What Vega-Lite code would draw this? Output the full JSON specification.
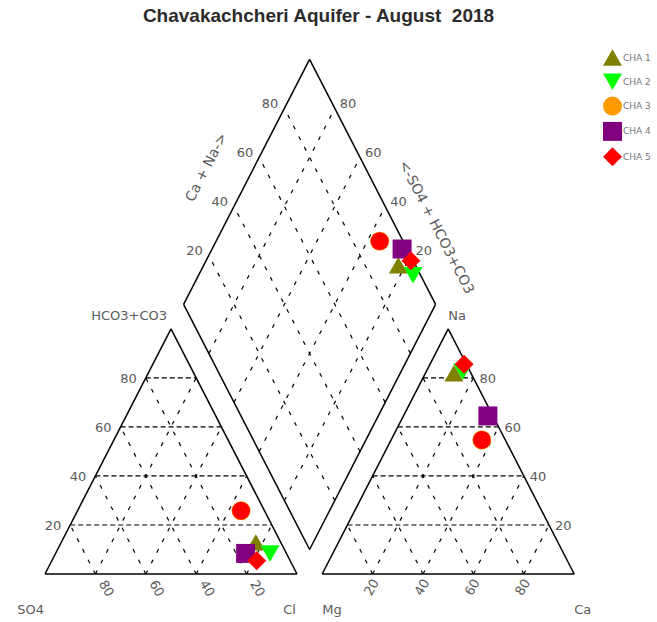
{
  "$schema": "https://vega.github.io/schema/vega-lite/v6.json",
  "width": 657,
  "height": 582,
  "autosize": {"type": "none"},
  "padding": {"top": 40, "left": 0, "right": 0, "bottom": 0},
  "background": "white",
  "title": {
    "text": "Chavakachcheri Aquifer - August\u00a0 2018",
    "anchor": "middle",
    "font": "Liberation Sans",
    "fontSize": 19,
    "fontWeight": "bold",
    "color": "#2b2b2b",
    "offset": 14,
    "dx": -10
  },
  "config": {
    "view": {"stroke": null},
    "text": {"font": "DejaVu Sans", "fontSize": 13, "color": "#5a5a5a"}
  },
  "datasets": {
    "samples": [
      {"sample": "CHA 1", "Ca": 11.3, "Mg": 6.8, "Na": 81.9, "HCO3": 12.9, "SO4": 9.9, "Cl": 77.2},
      {"sample": "CHA 2", "Ca": 14.5, "Mg": 3.0, "Na": 82.5, "HCO3": 8.4, "SO4": 6.5, "Cl": 85.1},
      {"sample": "CHA 3", "Ca": 36.0, "Mg": 9.3, "Na": 54.7, "HCO3": 25.8, "SO4": 9.3, "Cl": 64.9},
      {"sample": "CHA 4", "Ca": 33.5, "Mg": 2.0, "Na": 64.5, "HCO3": 8.4, "SO4": 16.2, "Cl": 75.4},
      {"sample": "CHA 5", "Ca": 13.5, "Mg": 0.9, "Na": 85.6, "HCO3": 5.4, "SO4": 13.3, "Cl": 81.3}
    ],
    "lines": [
      {"panel": "L", "family": "top", "level": [0, 20, 40, 60, 80]},
      {"panel": "L", "family": "right", "level": [0, 20, 40, 60, 80]},
      {"panel": "L", "family": "left", "level": [0, 20, 40, 60, 80]},
      {"panel": "R", "family": "top", "level": [0, 20, 40, 60, 80]},
      {"panel": "R", "family": "right", "level": [0, 20, 40, 60, 80]},
      {"panel": "R", "family": "left", "level": [0, 20, 40, 60, 80]},
      {"panel": "D", "family": "a", "level": [0, 20, 40, 60, 80, 100]},
      {"panel": "D", "family": "b", "level": [0, 20, 40, 60, 80, 100]}
    ],
    "levels": [{"level": 20}, {"level": 40}, {"level": 60}, {"level": 80}],
    "corners": [
      {"label": "SO4", "panel": "L", "corner": "left"},
      {"label": "Cl", "panel": "L", "corner": "right"},
      {"label": "HCO3+CO3", "panel": "L", "corner": "top"},
      {"label": "Mg", "panel": "R", "corner": "left"},
      {"label": "Ca", "panel": "R", "corner": "right"},
      {"label": "Na", "panel": "R", "corner": "top"}
    ],
    "diamondTitles": [
      {"label": "Ca + Na->", "edge": "upper-left"},
      {"label": "<-SO4 + HCO3+CO3", "edge": "upper-right"}
    ]
  },
  "layer": [
    {
      "data": {"name": "lines"},
      "transform": [
        {"flatten": ["level"]},
        {"calculate": "datum.family=='top'||datum.family=='a' ? datum.level : 0", "as": "p1"},
        {"calculate": "datum.family=='top'||datum.family=='a' ? 0 : datum.family=='left' ? 100-datum.level : datum.level", "as": "q1"},
        {"calculate": "datum.family=='top'||datum.family=='a' ? datum.level : datum.family=='b' ? 100 : 100-datum.level", "as": "p2"},
        {"calculate": "datum.family=='top' ? 100-datum.level : datum.family=='a' ? 100 : datum.family=='left' ? 0 : datum.level", "as": "q2"},
        {"calculate": "datum.panel=='D' ? 105+(datum.p1-datum.q1)/2 : (datum.panel=='R' ? 110 : 0)+datum.q1+datum.p1/2", "as": "u1"},
        {"calculate": "datum.panel=='D' ? 0.8660254*(10+datum.p1+datum.q1) : 0.8660254*datum.p1", "as": "v1"},
        {"calculate": "datum.panel=='D' ? 105+(datum.p2-datum.q2)/2 : (datum.panel=='R' ? 110 : 0)+datum.q2+datum.p2/2", "as": "u2"},
        {"calculate": "datum.panel=='D' ? 0.8660254*(10+datum.p2+datum.q2) : 0.8660254*datum.p2", "as": "v2"}
      ],
      "encoding": {
        "x": {"field": "u1", "type": "quantitative", "scale": {"domain": [-17.857, 242.857], "nice": false, "zero": false}, "axis": null},
        "y": {"field": "v1", "type": "quantitative", "scale": {"domain": [-16.96, 188.69], "nice": false, "zero": false}, "axis": null},
        "x2": {"field": "u2"},
        "y2": {"field": "v2"}
      },
      "layer": [
        {
          "transform": [{"filter": "datum.level > 0 && datum.level < 100 && datum.family == 'top'"}],
          "mark": {"type": "rule", "color": "#000000", "strokeWidth": 1.2, "strokeDash": [5, 3]}
        },
        {
          "transform": [{"filter": "datum.level > 0 && datum.level < 100 && datum.family != 'top'"}],
          "mark": {"type": "rule", "color": "#000000", "strokeWidth": 1.2, "strokeDash": [4, 8]}
        },
        {
          "transform": [{"filter": "datum.level == 0 || datum.level == 100"}],
          "mark": {"type": "rule", "color": "#000000", "strokeWidth": 1.5}
        }
      ]
    },
    {
      "data": {"name": "levels"},
      "transform": [
        {"calculate": "datum.level/2", "as": "u"},
        {"calculate": "0.8660254*datum.level", "as": "v"}
      ],
      "mark": {"type": "text", "align": "right", "baseline": "middle", "dx": -9, "dy": 1},
      "encoding": {
        "x": {"field": "u", "type": "quantitative", "scale": {"domain": [-17.857, 242.857], "nice": false, "zero": false}, "axis": null},
        "y": {"field": "v", "type": "quantitative", "scale": {"domain": [-16.96, 188.69], "nice": false, "zero": false}, "axis": null},
        "text": {"field": "level", "type": "nominal"}
      }
    },
    {
      "data": {"name": "levels"},
      "transform": [
        {"calculate": "datum.level", "as": "u"},
        {"calculate": "0", "as": "v"},
        {"calculate": "100 - datum.level", "as": "lab"}
      ],
      "mark": {"type": "text", "align": "center", "baseline": "middle", "angle": 60, "dx": 18, "dy": -2},
      "encoding": {
        "x": {"field": "u", "type": "quantitative", "scale": {"domain": [-17.857, 242.857], "nice": false, "zero": false}, "axis": null},
        "y": {"field": "v", "type": "quantitative", "scale": {"domain": [-16.96, 188.69], "nice": false, "zero": false}, "axis": null},
        "text": {"field": "lab", "type": "nominal"}
      }
    },
    {
      "data": {"name": "levels"},
      "transform": [
        {"calculate": "210 - datum.level/2", "as": "u"},
        {"calculate": "0.8660254*datum.level", "as": "v"}
      ],
      "mark": {"type": "text", "align": "left", "baseline": "middle", "dx": 6, "dy": 1},
      "encoding": {
        "x": {"field": "u", "type": "quantitative", "scale": {"domain": [-17.857, 242.857], "nice": false, "zero": false}, "axis": null},
        "y": {"field": "v", "type": "quantitative", "scale": {"domain": [-16.96, 188.69], "nice": false, "zero": false}, "axis": null},
        "text": {"field": "level", "type": "nominal"}
      }
    },
    {
      "data": {"name": "levels"},
      "transform": [
        {"calculate": "110 + datum.level", "as": "u"},
        {"calculate": "0", "as": "v"}
      ],
      "mark": {"type": "text", "align": "center", "baseline": "middle", "angle": 300, "dx": -12, "dy": 6},
      "encoding": {
        "x": {"field": "u", "type": "quantitative", "scale": {"domain": [-17.857, 242.857], "nice": false, "zero": false}, "axis": null},
        "y": {"field": "v", "type": "quantitative", "scale": {"domain": [-16.96, 188.69], "nice": false, "zero": false}, "axis": null},
        "text": {"field": "level", "type": "nominal"}
      }
    },
    {
      "data": {"name": "levels"},
      "transform": [
        {"calculate": "105 + (datum.level - 100)/2", "as": "u"},
        {"calculate": "0.8660254*(110 + datum.level)", "as": "v"}
      ],
      "mark": {"type": "text", "align": "right", "baseline": "middle", "dx": -6, "dy": -4},
      "encoding": {
        "x": {"field": "u", "type": "quantitative", "scale": {"domain": [-17.857, 242.857], "nice": false, "zero": false}, "axis": null},
        "y": {"field": "v", "type": "quantitative", "scale": {"domain": [-16.96, 188.69], "nice": false, "zero": false}, "axis": null},
        "text": {"field": "level", "type": "nominal"}
      }
    },
    {
      "data": {"name": "levels"},
      "transform": [
        {"calculate": "105 + (100 - datum.level)/2", "as": "u"},
        {"calculate": "0.8660254*(110 + datum.level)", "as": "v"}
      ],
      "mark": {"type": "text", "align": "left", "baseline": "middle", "dx": 5, "dy": -4},
      "encoding": {
        "x": {"field": "u", "type": "quantitative", "scale": {"domain": [-17.857, 242.857], "nice": false, "zero": false}, "axis": null},
        "y": {"field": "v", "type": "quantitative", "scale": {"domain": [-16.96, 188.69], "nice": false, "zero": false}, "axis": null},
        "text": {"field": "level", "type": "nominal"}
      }
    },
    {
      "data": {"name": "corners"},
      "transform": [
        {"calculate": "(datum.panel=='R' ? 110 : 0) + (datum.corner=='left' ? 0 : datum.corner=='right' ? 100 : 50)", "as": "u"},
        {"calculate": "datum.corner=='top' ? 86.60254 : 0", "as": "v"}
      ],
      "encoding": {
        "x": {"field": "u", "type": "quantitative", "scale": {"domain": [-17.857, 242.857], "nice": false, "zero": false}, "axis": null},
        "y": {"field": "v", "type": "quantitative", "scale": {"domain": [-16.96, 188.69], "nice": false, "zero": false}, "axis": null},
        "text": {"field": "label", "type": "nominal"}
      },
      "layer": [
        {
          "transform": [{"filter": "datum.panel=='L' && datum.corner!='top'"}],
          "mark": {"type": "text", "align": "right", "baseline": "middle", "dx": -1, "dy": 36}
        },
        {
          "transform": [{"filter": "datum.panel=='R' && datum.corner!='top'"}],
          "mark": {"type": "text", "align": "left", "baseline": "middle", "dx": 0, "dy": 36}
        },
        {
          "transform": [{"filter": "datum.panel=='L' && datum.corner=='top'"}],
          "mark": {"type": "text", "align": "right", "baseline": "middle", "dx": -4, "dy": -13}
        },
        {
          "transform": [{"filter": "datum.panel=='R' && datum.corner=='top'"}],
          "mark": {"type": "text", "align": "left", "baseline": "middle", "dx": 0, "dy": -13}
        }
      ]
    },
    {
      "data": {"name": "diamondTitles"},
      "transform": [
        {"calculate": "datum.edge=='upper-left' ? 80 : 130", "as": "u"},
        {"calculate": "0.8660254*160", "as": "v"}
      ],
      "encoding": {
        "x": {"field": "u", "type": "quantitative", "scale": {"domain": [-17.857, 242.857], "nice": false, "zero": false}, "axis": null},
        "y": {"field": "v", "type": "quantitative", "scale": {"domain": [-16.96, 188.69], "nice": false, "zero": false}, "axis": null},
        "text": {"field": "label", "type": "nominal"}
      },
      "layer": [
        {
          "transform": [{"filter": "datum.edge=='upper-left'"}],
          "mark": {"type": "text", "align": "center", "baseline": "middle", "angle": 297.2, "dx": -5.5, "dy": -42, "fontSize": 14}
        },
        {
          "transform": [{"filter": "datum.edge=='upper-right'"}],
          "mark": {"type": "text", "align": "center", "baseline": "middle", "angle": 62.8, "dx": 69.5, "dy": -35.6, "fontSize": 14}
        }
      ]
    },
    {
      "data": {"name": "samples"},
      "transform": [
        {"calculate": "[{u: datum.Cl + datum.HCO3/2, v: 0.8660254*datum.HCO3}, {u: 110 + datum.Ca + datum.Na/2, v: 0.8660254*datum.Na}, {u: 105 + (datum.Ca + datum.Na - datum.SO4 - datum.HCO3)/2, v: 0.8660254*(10 + datum.Ca + datum.Na + datum.SO4 + datum.HCO3)}]", "as": "pos"},
        {"flatten": ["pos"]},
        {"calculate": "datum.pos.u", "as": "u"},
        {"calculate": "datum.pos.v", "as": "v"}
      ],
      "encoding": {
        "x": {"field": "u", "type": "quantitative", "scale": {"domain": [-17.857, 242.857], "nice": false, "zero": false}, "axis": null},
        "y": {"field": "v", "type": "quantitative", "scale": {"domain": [-16.96, 188.69], "nice": false, "zero": false}, "axis": null}
      },
      "layer": [
        {
          "mark": {"type": "point", "filled": true, "opacity": 1},
          "encoding": {
            "shape": {
              "field": "sample", "type": "nominal",
              "scale": {"domain": ["CHA 1", "CHA 2", "CHA 3", "CHA 4", "CHA 5"], "range": ["triangle-up", "triangle-down", "circle", "square", "diamond"]},
              "legend": {"title": null, "orient": "none", "legendX": 603, "legendY": 8, "symbolSize": 350, "symbolOpacity": 1, "symbolStrokeWidth": 0, "labelFont": "DejaVu Sans", "labelFontSize": 9, "labelColor": "#777777", "labelOffset": 1, "rowPadding": 6.3, "padding": 0}
            },
            "color": {
              "field": "sample", "type": "nominal",
              "scale": {"domain": ["CHA 1", "CHA 2", "CHA 3", "CHA 4", "CHA 5"], "range": ["#808000", "#00FF00", "#FF9900", "#800080", "#FF0000"]},
              "legend": {"title": null, "orient": "none", "legendX": 603, "legendY": 8, "symbolSize": 350, "symbolOpacity": 1, "symbolStrokeWidth": 0, "labelFont": "DejaVu Sans", "labelFontSize": 9, "labelColor": "#777777", "labelOffset": 1, "rowPadding": 6.3, "padding": 0}
            },
            "size": {
              "field": "sample", "type": "nominal",
              "scale": {"domain": ["CHA 1", "CHA 2", "CHA 3", "CHA 4", "CHA 5"], "range": [360, 360, 320, 340, 440]},
              "legend": null
            }
          }
        },
        {
          "transform": [{"filter": "datum.sample == 'CHA 3'"}],
          "mark": {"type": "point", "filled": true, "opacity": 1, "size": 320, "shape": "circle", "color": "#FF0000"}
        }
      ]
    }
  ]
}
